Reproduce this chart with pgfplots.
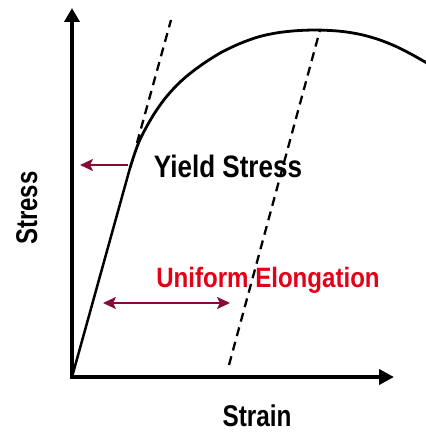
\documentclass[border=0pt]{standalone}
\usepackage{fontspec}
\setmainfont{Liberation Sans}
\usepackage{graphicx}
\usepackage{pgfplots}
\pgfplotsset{compat=1.18}
\usetikzlibrary{arrows.meta}
\definecolor{arrowred}{RGB}{134,10,58}
\definecolor{textred}{RGB}{228,0,22}
\begin{document}
\begin{tikzpicture}
\begin{axis}[
  scale only axis, width=426pt, height=437pt,
  xmin=0, xmax=426, ymin=0, ymax=437,
  hide axis, clip=true,
]
\addplot[draw=none] coordinates {(0,0) (426,437)};
% axes
\addplot[line width=3.9pt, -{Triangle[length=14pt,width=15pt]}] coordinates {(72,58) (72,429)};
\addplot[line width=3.9pt, -{Triangle[length=15pt,width=15pt]}] coordinates {(70,60) (394,60)};
% elastic part
\addplot[line width=2.5pt, line cap=round] coordinates {(72,60) (130,269)};
% plastic part
\addplot[line width=2.8pt, smooth, tension=0.5] coordinates {
 (130,269) (135,284.5) (140,297.5) (147,311) (155,324.5) (165,338.5) (177,352)
 (190,363.5) (205,374.5) (222,385) (240,393.5) (258,400) (276,404) (295,406.2)
 (315,407) (335,406.2) (350,404.5) (365,401.5) (380,397) (395,391) (410,383.5)
 (426,374.5) (440,366)};
% dashed lines
\addplot[line width=2.3pt, dash pattern=on 9pt off 6pt] coordinates {(137,294) (171,417)};
\addplot[line width=2.3pt, dash pattern=on 9pt off 6pt] coordinates {(229,72) (320,407)};
% arrows
\addplot[arrowred, line width=2.2pt, -{Stealth[length=13pt,width=12pt,inset=3pt]}] coordinates {(128,272) (80,272)};
\addplot[arrowred, line width=2.2pt, {Stealth[length=13pt,width=12pt,inset=3pt]}-{Stealth[length=13pt,width=12pt,inset=3pt]}] coordinates {(103,134) (230,134)};
% labels
\node[anchor=base, inner sep=0pt] at (axis cs:228,259) {\scalebox{0.84}[1]{\fontsize{31}{31}\selectfont\bfseries Yield Stress}};
\node[anchor=base, inner sep=0pt, text=textred] at (axis cs:268,149) {\scalebox{0.86}[1]{\fontsize{28}{28}\selectfont\bfseries Uniform Elongation}};
\node[anchor=base, inner sep=0pt] at (axis cs:257,10) {\scalebox{0.81}[1]{\fontsize{30}{30}\selectfont\bfseries Strain}};
\node[anchor=base, inner sep=0pt, rotate=90] at (axis cs:37,229) {\scalebox{0.8}[1]{\fontsize{30}{30}\selectfont\bfseries Stress}};
\end{axis}
\end{tikzpicture}
\end{document}
